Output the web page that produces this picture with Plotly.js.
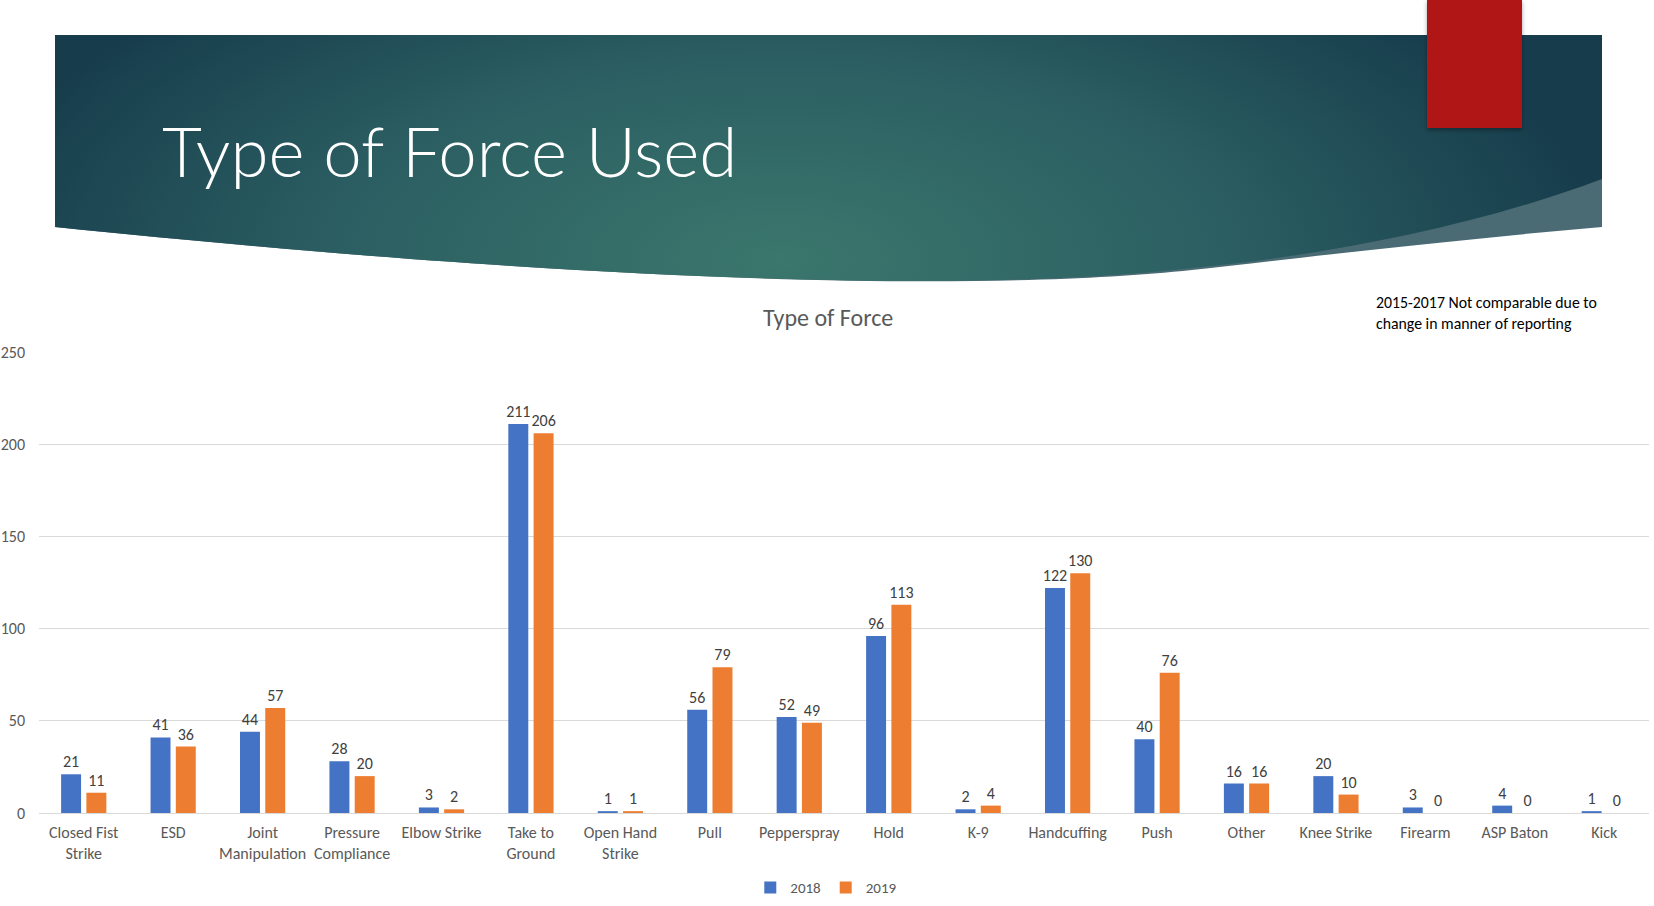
<!DOCTYPE html>
<html>
<head>
<meta charset="utf-8">
<script src="https://cdn.plot.ly/plotly-3.0.1.min.js"></script>
<style>
  html, body { margin: 0; padding: 0; background: #ffffff; }
  #wrap { position: relative; width: 1654px; height: 906px; overflow: hidden; }
  #bg { position: absolute; left: 0; top: 0; }
  #chart { position: absolute; left: 0; top: 0; width: 1654px; height: 906px; }
</style>
</head>
<body>
<div id="wrap">
  <svg id="bg" width="1654" height="906" xmlns="http://www.w3.org/2000/svg">
    <defs>
      <radialGradient id="g1" cx="780" cy="260" r="820" gradientUnits="userSpaceOnUse" gradientTransform="translate(780 260) scale(1 0.45) translate(-780 -260)">
        <stop offset="0" stop-color="#3b776d"/>
        <stop offset="0.55" stop-color="#2b5e62"/>
        <stop offset="1" stop-color="#173d4c"/>
      </radialGradient>
      <filter id="sh" x="-20%" y="-20%" width="140%" height="140%">
        <feDropShadow dx="0" dy="2" stdDeviation="2" flood-color="#000" flood-opacity="0.35"/>
      </filter>
    </defs>
    <path d="M55,35 L1602,35 L1602,227 C1450,240 1300,258 1192,270 C1000,290 650,288 55,227 Z" fill="#4b6b74"/>
    <path d="M55,35 L1602,35 L1602,179 C1480,225 1330,255 1192,268 C1000,290 650,288 55,227 Z" fill="url(#g1)"/>
    <rect x="1427" y="0" width="95" height="128" fill="#b01515" filter="url(#sh)"/>
  </svg>
  <div id="chart"></div>
</div>
<script>
const categories = ["Closed Fist Strike", "ESD", "Joint Manipulation", "Pressure Compliance", "Elbow Strike", "Take to Ground", "Open Hand Strike", "Pull", "Pepperspray", "Hold", "K-9", "Handcuffing", "Push", "Other", "Knee Strike", "Firearm", "ASP Baton", "Kick"];
const tickLabels = ["Closed Fist<br>Strike", "ESD", "Joint<br>Manipulation", "Pressure<br>Compliance", "Elbow Strike", "Take to<br>Ground", "Open Hand<br>Strike", "Pull", "Pepperspray", "Hold", "K-9", "Handcuffing", "Push", "Other", "Knee Strike", "Firearm", "ASP Baton", "Kick"];
const values2018 = [21, 41, 44, 28, 3, 211, 1, 56, 52, 96, 2, 122, 40, 16, 20, 3, 4, 1];
const values2019 = [11, 36, 57, 20, 2, 206, 1, 79, 49, 113, 4, 130, 76, 16, 10, 0, 0, 0];
const yTicks = [0, 50, 100, 150, 200, 250];

const FONT = "Carlito, Lato, 'Open Sans', sans-serif";

const traces = [
  {
    type: "bar", name: "2018", x: categories, y: values2018,
    marker: { color: "#4472c4" },
    text: values2018.map(String), textposition: "outside", constraintext: "none",
    textfont: { family: FONT, size: 16, color: "#404040" },
    cliponaxis: false
  },
  {
    type: "bar", name: "2019", x: categories, y: values2019,
    marker: { color: "#ed7d31" },
    text: values2019.map(String), textposition: "outside", constraintext: "none",
    textfont: { family: FONT, size: 16, color: "#404040" },
    cliponaxis: false
  }
];

const layout = {
  width: 1654, height: 906,
  margin: { l: 39, r: 5, t: 352, b: 93, autoexpand: false },
  paper_bgcolor: "rgba(0,0,0,0)",
  plot_bgcolor: "rgba(0,0,0,0)",
  barmode: "group",
  bargap: 0.435,
  bargroupgap: 0.21,
  showlegend: true,
  legend: {
    orientation: "h", x: 0.489, xanchor: "center", y: -0.162, yanchor: "middle",
    font: { family: FONT, size: 15, color: "#595959" },
    itemwidth: 30, tracegroupgap: 0
  },
  xaxis: {
    type: "category",
    tickvals: categories, ticktext: tickLabels,
    tickfont: { family: FONT, size: 16, color: "#595959" },
    ticks: "", showgrid: false, showline: true, linecolor: "#d9d9d9", linewidth: 1,
    ticklabelstandoff: 5, fixedrange: true, automargin: false
  },
  yaxis: {
    range: [0, 250], tickvals: yTicks,
    tickfont: { family: FONT, size: 16, color: "#595959" },
    ticks: "", showgrid: true, gridcolor: "#d9d9d9", gridwidth: 1,
    zeroline: false, showline: false, ticklabelstandoff: 13, fixedrange: true, automargin: false
  },
  annotations: [
    {
      text: "Type of Force", xref: "paper", yref: "paper",
      x: 0.49, y: 1.074, xanchor: "center", yanchor: "middle", showarrow: false,
      font: { family: FONT, size: 24, color: "#595959" }
    },
    {
      text: "2015-2017 Not comparable due to<br>change in manner of reporting",
      xref: "paper", yref: "paper", x: 0.829, y: 1.132, xanchor: "left", yanchor: "top",
      align: "left", showarrow: false,
      font: { family: FONT, size: 15.8, color: "#000000" }
    },
    {
      text: "Type of Force Used", xref: "paper", yref: "paper",
      x: (160 - 39) / 1610, y: (813 - 150) / 461, xanchor: "left", yanchor: "middle",
      showarrow: false,
      font: { family: "Lato, 'Open Sans', sans-serif", size: 69, color: "#ffffff", weight: 300 }
    }
  ]
};

Plotly.newPlot("chart", traces, layout, { displayModeBar: false, staticPlot: true });
</script>
</body>
</html>
